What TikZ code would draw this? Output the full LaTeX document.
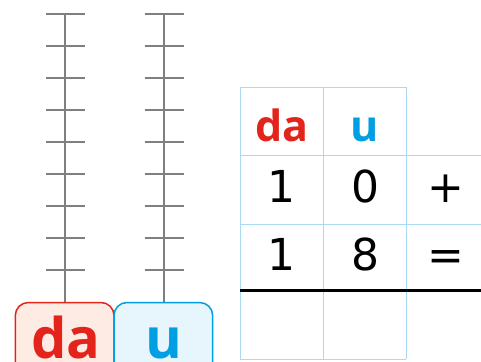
\documentclass[tikz,border=0pt]{standalone}
\usepackage{fontspec}
\setmainfont{DejaVu Sans}
\newfontfamily\placefont{Open Sans}
\definecolor{darot}{HTML}{E3241B}
\definecolor{ublau}{HTML}{009EE2}
\definecolor{darosa}{HTML}{FDEBE4}
\definecolor{uhell}{HTML}{E7F5FD}
\definecolor{gitter}{HTML}{A9DAF3}
\definecolor{stange}{HTML}{7F7F7F}
\begin{document}
\begin{tikzpicture}[x=1pt,y=-1pt,
	stab/.style={stange,line width=2pt},
	zelle/.style={gitter,line width=1pt},
	ziffer/.style={anchor=base,inner sep=0pt,font=\fontsize{44}{44}\selectfont},
	kopf/.style={anchor=base,inner sep=0pt,font=\placefont\bfseries\fontsize{43}{43}\selectfont},
	fuss/.style={anchor=base,inner sep=0pt,font=\placefont\bfseries\fontsize{56}{56}\selectfont}]
	\useasboundingbox (0,0) rectangle (481,361);
	% abacus rods
	\coordinate (dtop) at (65,15);
	\coordinate (dfuss) at (65,302.5);
	\coordinate (utop) at (163.5,15);
	\coordinate (ufuss) at (163.5,302.5);
	\draw[stab] (dtop)--(dfuss);
	\draw[stab] (utop)--(ufuss);
	\foreach \k in {0,...,8}{
		\draw[stab] (46,14.3+32*\k)--+(39,0);
		\draw[stab] (144.5,14.3+32*\k)--+(39,0);
	}
	% base of the abacus
	\begin{scope}
		\clip (0,0) rectangle (481,361);
		\draw[darot,fill=darosa,line width=1.5pt,rounded corners=13pt] (114,380)--(15.3,380)--(15.3,302.5)--(114,302.5)--cycle;
		\draw[ublau,fill=uhell,line width=1.5pt,rounded corners=13pt] (114,302.5)--(212.7,302.5)--(212.7,380)--(114,380)--cycle;
		\node[fuss,darot] (bda) at (66,358) {da};
		\node[fuss,ublau] (bu) at (164,358) {u};
	\end{scope}
	% table
	\draw[zelle] (240.3,87.3)--(406.3,87.3);
	\draw[zelle] (240.3,155.3)--(481,155.3);
	\draw[zelle] (240.3,224)--(481,224);
	\draw[zelle] (240.3,359)--(406.3,359);
	\foreach \x in {240.3,323.3,406.3}
		\draw[zelle] (\x,87.3)--(\x,359);
	\draw[black,line width=2.5pt] (240.3,290.7)--(481,290.7);
	\node[kopf,darot] (hda) at (281.7,141) {da};
	\node[kopf,ublau] (hu) at (365,141) {u};
	\node[ziffer] (a1) at (281.7,202) {1};
	\node[ziffer] (a2) at (365,202) {0};
	\node[ziffer] (a3) at (446,202) {+};
	\node[ziffer] (b1) at (281.7,270) {1};
	\node[ziffer] (b2) at (365,270) {8};
	\node[ziffer] (b3) at (446,270) {=};
\end{tikzpicture}
\end{document}
